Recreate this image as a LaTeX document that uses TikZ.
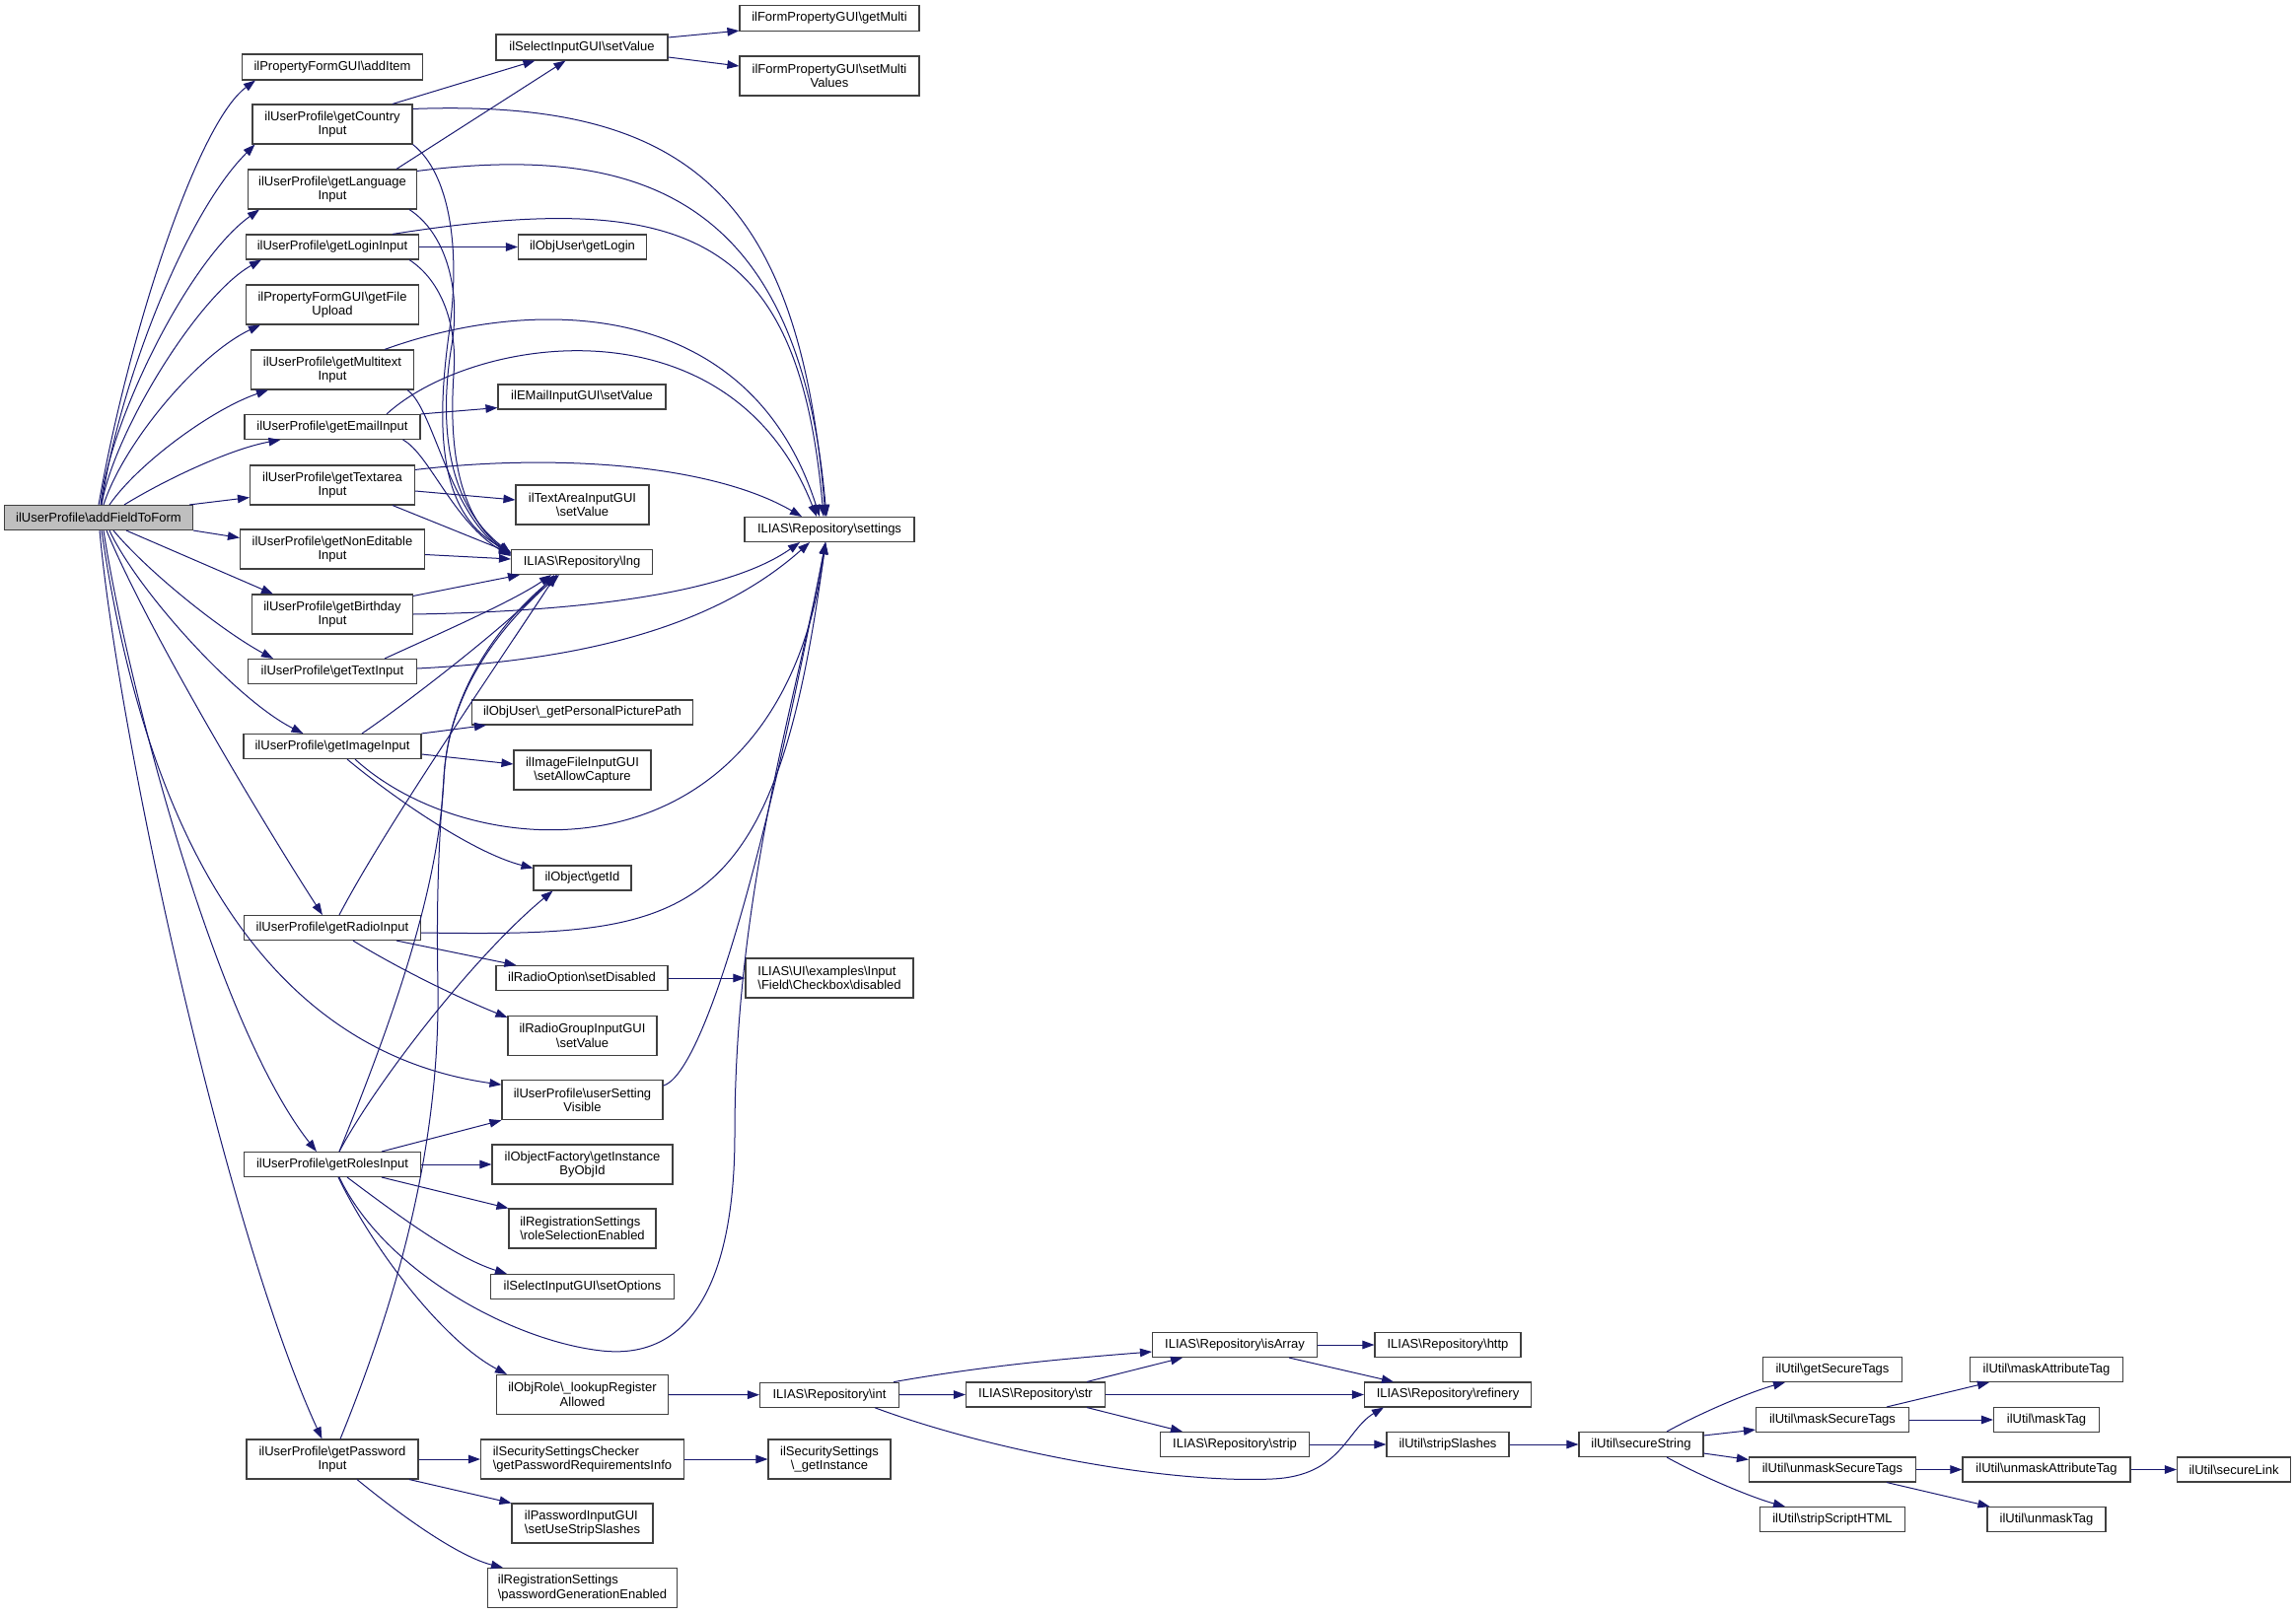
\documentclass[tikz,border=0pt]{standalone}
\usepackage{fontspec}
\setmainfont{Liberation Sans}
\usetikzlibrary{arrows.meta}
\definecolor{edgec}{HTML}{191970}
\definecolor{bordc}{HTML}{404040}
\definecolor{rootc}{HTML}{BFBFBF}
\newcommand{\BS}{\textbackslash}
\begin{document}
\begin{tikzpicture}[x=1pt,y=-1pt,
  box/.style={draw=bordc, line width=1.1pt, fill=white, inner sep=0pt, align=center, font=\fontsize{13}{14.5}\selectfont},
  sz/.style 2 args={minimum width=#1pt, minimum height=#2pt},
  lnk/.style={draw=edgec, line width=1pt, -{Triangle[length=12pt,width=8.5pt]}}]
\useasboundingbox[fill=white] (0,0) rectangle (2328,1637);
% column 1
\node[box,sz={191}{25},fill=rootc] (root) at (100,525) {ilUserProfile\BS addFieldToForm};
% column 2
\node[box,sz={183}{26}] (addItem) at (337,68) {ilPropertyFormGUI\BS addItem};
\node[box,sz={162}{40}] (country) at (337,126) {ilUserProfile\BS getCountry\\Input};
\node[box,sz={171}{40}] (language) at (337,192) {ilUserProfile\BS getLanguage\\Input};
\node[box,sz={175}{25}] (login) at (337,250.5) {ilUserProfile\BS getLoginInput};
\node[box,sz={175}{40}] (fileupload) at (337,309) {ilPropertyFormGUI\BS getFile\\Upload};
\node[box,sz={165}{40}] (multitext) at (337,375) {ilUserProfile\BS getMultitext\\Input};
\node[box,sz={178}{25}] (email) at (337,433) {ilUserProfile\BS getEmailInput};
\node[box,sz={167}{40}] (textarea) at (337,492) {ilUserProfile\BS getTextarea\\Input};
\node[box,sz={187}{40}] (noneditable) at (337,557) {ilUserProfile\BS getNonEditable\\Input};
\node[box,sz={163}{40}] (birthday) at (337,623) {ilUserProfile\BS getBirthday\\Input};
\node[box,sz={171}{25}] (textinput) at (337,681) {ilUserProfile\BS getTextInput};
\node[box,sz={180}{25}] (imageinput) at (337,757) {ilUserProfile\BS getImageInput};
\node[box,sz={179}{25}] (radioinput) at (337,941) {ilUserProfile\BS getRadioInput};
\node[box,sz={179}{25}] (rolesinput) at (337,1181) {ilUserProfile\BS getRolesInput};
\node[box,sz={174}{40}] (password) at (337,1480) {ilUserProfile\BS getPassword\\Input};
% column 3
\node[box,sz={174}{26}] (selSet) at (590,48) {ilSelectInputGUI\BS setValue};
\node[box,sz={130}{25}] (getLogin) at (590.5,250.5) {ilObjUser\BS getLogin};
\node[box,sz={170}{25}] (emailSet) at (590,402.5) {ilEMailInputGUI\BS setValue};
\node[box,sz={135}{40}] (taSet) at (590.5,512) {ilTextAreaInputGUI\\\BS setValue};
\node[box,sz={143}{25}] (lng) at (590,570) {ILIAS\BS Repository\BS lng};
\node[box,sz={224}{25}] (picPath) at (590.5,722.5) {ilObjUser\BS\_getPersonalPicturePath};
\node[box,sz={139}{40}] (allowCap) at (590.5,781) {ilImageFileInputGUI\\\BS setAllowCapture};
\node[box,sz={99}{25}] (getId) at (590.5,890.5) {ilObject\BS getId};
\node[box,sz={174}{25}] (setDis) at (590,992) {ilRadioOption\BS setDisabled};
\node[box,sz={151}{40}] (rgSet) at (590.5,1050.5) {ilRadioGroupInputGUI\\\BS setValue};
\node[box,sz={163}{40}] (usv) at (590.5,1115.7) {ilUserProfile\BS userSetting\\Visible};
\node[box,sz={183}{40}] (objFac) at (590.5,1181) {ilObjectFactory\BS getInstance\\ByObjId};
\node[box,sz={149}{40},align=left] (roleSel) at (590.5,1246) {ilRegistrationSettings\\\BS roleSelectionEnabled};
\node[box,sz={186}{25}] (setOpt) at (590.5,1305) {ilSelectInputGUI\BS setOptions};
\node[box,sz={174}{40}] (objRole) at (590.5,1414.5) {ilObjRole\BS\_lookupRegister\\Allowed};
\node[box,sz={206}{40},align=left] (secChk) at (590.5,1480) {ilSecuritySettingsChecker\\\BS getPasswordRequirementsInfo};
\node[box,sz={143}{40},align=left] (pwIn) at (590.5,1545) {ilPasswordInputGUI\\\BS setUseStripSlashes};
\node[box,sz={192}{40},align=left] (pwGen) at (590.5,1610.5) {ilRegistrationSettings\\\BS passwordGenerationEnabled};
% column 4
\node[box,sz={182}{26}] (getMulti) at (841,18.6) {ilFormPropertyGUI\BS getMulti};
\node[box,sz={182}{40}] (setMulti) at (841,77) {ilFormPropertyGUI\BS setMulti\\Values};
\node[box,sz={172}{25}] (settings) at (841,537) {ILIAS\BS Repository\BS settings};
\node[box,sz={170}{40},align=left] (cbDis) at (841,992) {ILIAS\BS UI\BS examples\BS Input\\\BS Field\BS Checkbox\BS disabled};
\node[box,sz={141}{25}] (repoInt) at (841,1414.7) {ILIAS\BS Repository\BS int};
\node[box,sz={124}{40}] (secInst) at (841,1480) {ilSecuritySettings\\\BS\_getInstance};
% further columns
\node[box,sz={141}{25}] (str) at (1050,1414.5) {ILIAS\BS Repository\BS str};
\node[box,sz={167}{25}] (isArray) at (1252,1364) {ILIAS\BS Repository\BS isArray};
\node[box,sz={151}{25}] (strip) at (1252,1465) {ILIAS\BS Repository\BS strip};
\node[box,sz={148}{25}] (http) at (1468,1364) {ILIAS\BS Repository\BS http};
\node[box,sz={169}{25}] (refinery) at (1468,1414.5) {ILIAS\BS Repository\BS refinery};
\node[box,sz={124}{25}] (stripSl) at (1468,1465) {ilUtil\BS stripSlashes};
\node[box,sz={126}{25}] (secStr) at (1664,1465) {ilUtil\BS secureString};
\node[box,sz={141}{25}] (getSec) at (1858,1389) {ilUtil\BS getSecureTags};
\node[box,sz={155}{25}] (maskSec) at (1858,1440) {ilUtil\BS maskSecureTags};
\node[box,sz={169}{25}] (unmaskSec) at (1858,1490.5) {ilUtil\BS unmaskSecureTags};
\node[box,sz={147}{25}] (stripScr) at (1858,1541) {ilUtil\BS stripScriptHTML};
\node[box,sz={155}{25}] (maskAttr) at (2075,1389) {ilUtil\BS maskAttributeTag};
\node[box,sz={107}{25}] (maskTag) at (2075,1440) {ilUtil\BS maskTag};
\node[box,sz={170}{25}] (unmaskAttr) at (2075,1490.5) {ilUtil\BS unmaskAttributeTag};
\node[box,sz={120}{25}] (unmaskTag) at (2075,1541) {ilUtil\BS unmaskTag};
\node[box,sz={115}{25}] (secLink) at (2265,1490.5) {ilUtil\BS secureLink};

% ---- edges from root
\draw[lnk] (root.north) .. controls (130,340) and (200,125) .. ([xshift=14pt]addItem.south west);
\draw[lnk] ([xshift=3pt]root.north) .. controls (118,400) and (185,220) .. ([xshift=3pt]country.south west);
\draw[lnk] ([xshift=2pt]root.north) .. controls (110,430) and (190,265) .. ([xshift=12pt]language.south west);
\draw[lnk] ([xshift=3pt]root.north) .. controls (115,440) and (200,300) .. ([xshift=16pt]login.south west);
\draw[lnk] ([xshift=5pt]root.north) .. controls (125,450) and (200,360) .. ([xshift=15pt]fileupload.south west);
\draw[lnk] ([xshift=11pt]root.north) .. controls (140,470) and (215,415) .. ([xshift=18pt]multitext.south west);
\draw[lnk] ([xshift=26pt]root.north) .. controls (170,485) and (235,455) .. ([xshift=37pt]email.south west);
\draw[lnk] ([xshift=-4pt]root.north east) -- ([yshift=8pt]textarea.south west);
\draw[lnk] (root.south east) -- ([yshift=-9pt]noneditable.north west);
\draw[lnk] ([xshift=28pt]root.south) -- ([xshift=22pt]birthday.north west);
\draw[lnk] ([xshift=15pt]root.south) .. controls (150,580) and (225,640) .. ([xshift=26pt]textinput.north west);
\draw[lnk] ([xshift=11pt]root.south) .. controls (140,600) and (240,710) .. ([xshift=61pt]imageinput.north west);
\draw[lnk] ([xshift=8pt]root.south) .. controls (150,640) and (270,840) .. ([xshift=80pt]radioinput.north west);
\draw[lnk] ([xshift=3pt]root.south) .. controls (135,760) and (225,1060) .. ([yshift=-5pt]usv.north west);
\draw[lnk] ([xshift=5pt]root.south) .. controls (130,700) and (220,1040) .. ([xshift=74pt]rolesinput.north west);
\draw[lnk] ([xshift=1pt]root.south) .. controls (120,750) and (230,1250) .. ([xshift=77pt]password.north west);

% ---- second column edges
\draw[lnk] ([xshift=61pt]country.north) -- ([xshift=40pt]selSet.south west);
\draw[lnk] ([xshift=65pt]language.north) -- ([xshift=71pt]selSet.south west);
\draw[lnk] ([yshift=-5pt]country.north east) .. controls (700,100) and (810,200) .. ([xshift=-4pt]settings.north);
\draw[lnk] ([yshift=-2pt]language.north east) .. controls (650,145) and (810,200) .. ([xshift=-3pt]settings.north);
\draw[lnk] ([xshift=61pt]login.north) .. controls (700,190) and (810,240) .. ([xshift=-6pt]settings.north);
\draw[lnk] ([xshift=53pt]multitext.north) .. controls (540,300) and (760,300) .. ([xshift=-10pt]settings.north);
\draw[lnk] ([xshift=55pt]email.north) .. controls (480,340) and (740,300) .. ([xshift=-13pt]settings.north);
\draw[lnk] ([yshift=-5pt]textarea.north east) .. controls (560,460) and (720,470) .. ([xshift=-28pt]settings.north);

\draw[lnk] (country.south east) .. controls (455,175) and (468,250) .. (455,340) .. controls (440,450) and (450,525) .. ([yshift=10pt]lng.west);
\draw[lnk] ([xshift=-8pt]language.south east) .. controls (450,235) and (468,290) .. (458,350) .. controls (448,410) and (445,505) .. ([yshift=9pt]lng.west);
\draw[lnk] ([xshift=-10pt]login.south east) .. controls (448,285) and (464,330) .. (460,380) .. controls (456,440) and (460,520) .. ([yshift=8pt]lng.west);
\draw[lnk] ([xshift=-7pt]multitext.south east) .. controls (440,415) and (455,520) .. ([yshift=7pt]lng.west);
\draw[lnk] ([xshift=-18pt]email.south east) .. controls (435,460) and (460,530) .. ([yshift=6pt]lng.west);
\draw[lnk] ([xshift=61pt]textarea.south) -- ([yshift=9pt]lng.west);
\draw[lnk] ([yshift=-5.5pt]noneditable.east) -- ([yshift=3pt]lng.west);

\draw[lnk] (login.east) -- (getLogin.west);
\draw[lnk] (email.north east) -- ([yshift=2pt]emailSet.south west);
\draw[lnk] ([yshift=-6pt]textarea.east) -- ([yshift=5pt]taSet.west);

\draw[lnk] ([yshift=-2pt]birthday.north east) -- ([xshift=9pt]lng.south west);
\draw[lnk] (birthday.east) .. controls (600,620) and (740,600) .. ([xshift=-30pt]settings.south);
\draw[lnk] ([xshift=53pt]textinput.north) .. controls (440,645) and (520,610) .. ([xshift=-31pt]lng.south);
\draw[lnk] ([yshift=3pt]textinput.east) .. controls (580,670) and (720,640) .. ([xshift=-20pt]settings.south);

\draw[lnk] ([xshift=30pt]imageinput.north) .. controls (410,715) and (520,630) .. ([xshift=-28pt]lng.south);
\draw[lnk] (imageinput.north east) -- ([xshift=15pt]picPath.south west);
\draw[lnk] ([yshift=-8pt]imageinput.east) -- ([yshift=6pt]allowCap.west);
\draw[lnk] ([xshift=15pt]imageinput.south) .. controls (400,810) and (480,865) .. ([yshift=10pt]getId.west);
\draw[lnk] ([xshift=23pt]imageinput.south) .. controls (480,880) and (790,900) .. ([xshift=-4pt]settings.south);

\draw[lnk] ([xshift=7pt]radioinput.north) .. controls (390,840) and (500,680) .. ([xshift=-26pt]lng.south);
\draw[lnk] ([yshift=-5pt]radioinput.east) .. controls (700,950) and (785,940) .. ([xshift=-4pt]settings.south);
\draw[lnk] ([xshift=65pt]radioinput.south) -- ([xshift=21pt]setDis.north west);
\draw[lnk] ([xshift=21pt]radioinput.south) .. controls (400,980) and (460,1010) .. ([yshift=-2pt]rgSet.north west);
\draw[lnk] (setDis.east) -- (cbDis.west);

\draw[lnk] ([yshift=-6pt]usv.north east) .. controls (710,1090) and (770,900) .. ([xshift=-4pt]settings.south);

\draw[lnk] ([xshift=7pt]rolesinput.north) .. controls (400,1030) and (445,900) .. (450,790) .. controls (455,690) and (520,620) .. ([xshift=-25pt]lng.south);
\draw[lnk] ([xshift=7pt]rolesinput.north) .. controls (380,1100) and (480,970) .. ([xshift=-30pt]getId.south);
\draw[lnk] ([xshift=50pt]rolesinput.north) -- (usv.south west);
\draw[lnk] (rolesinput.east) -- (objFac.west);
\draw[lnk] ([xshift=50pt]rolesinput.south) -- (roleSel.north west);
\draw[lnk] ([xshift=15pt]rolesinput.south) .. controls (400,1230) and (460,1275) .. ([xshift=17pt]setOpt.north west);
\draw[lnk] ([xshift=6pt]rolesinput.south) .. controls (380,1270) and (450,1360) .. ([xshift=11pt]objRole.north west);
\draw[lnk] ([xshift=7pt]rolesinput.south) .. controls (390,1290) and (520,1360) .. (610,1370) .. controls (700,1380) and (745,1300) .. (745,1150) .. controls (745,900) and (810,700) .. ([xshift=-4pt]settings.south);

\draw[lnk] ([xshift=8pt]password.north) .. controls (410,1300) and (446,1150) .. (444,1000) .. controls (442,900) and (446,840) .. (450,790) .. controls (455,690) and (522,622) .. ([xshift=-23pt]lng.south);
\draw[lnk] (password.east) -- (secChk.west);
\draw[lnk] ([xshift=78pt]password.south) -- (pwIn.north west);
\draw[lnk] ([xshift=25pt]password.south) .. controls (420,1548) and (470,1580) .. ([xshift=16pt]pwGen.north west);

% ---- right part
\draw[lnk] ([yshift=10pt]selSet.east) -- ([yshift=1pt]getMulti.south west);
\draw[lnk] ([yshift=-10pt]selSet.east) -- ([yshift=10pt]setMulti.west);
\draw[lnk] (objRole.east) -- (repoInt.west);
\draw[lnk] (secChk.east) -- (secInst.west);

\draw[lnk] ([xshift=-6pt]repoInt.north east) .. controls (1000,1385) and (1080,1378) .. ([yshift=-7pt]isArray.west);
\draw[lnk] (repoInt.east) -- (str.west);
\draw[lnk] ([xshift=-25pt]repoInt.south east) .. controls (1000,1470) and (1180,1505) .. (1290,1500) .. controls (1360,1497) and (1365,1450) .. ([xshift=20pt]refinery.south west);
\draw[lnk] ([xshift=-19pt]str.north east) -- ([xshift=31pt]isArray.south west);
\draw[lnk] (str.east) -- (refinery.west);
\draw[lnk] ([xshift=-19pt]str.south east) -- ([xshift=23pt]strip.north west);
\draw[lnk] (isArray.east) -- (http.west);
\draw[lnk] ([xshift=-29pt]isArray.south east) -- ([xshift=30pt]refinery.north west);
\draw[lnk] (strip.east) -- (stripSl.west);
\draw[lnk] (stripSl.east) -- (secStr.west);

\draw[lnk] ([xshift=26pt]secStr.north) .. controls (1730,1430) and (1780,1410) .. ([xshift=23pt]getSec.south west);
\draw[lnk] ([yshift=-4pt]secStr.north east) -- ([yshift=3pt]maskSec.south west);
\draw[lnk] ([yshift=4pt]secStr.south east) -- ([yshift=-3pt]unmaskSec.north west);
\draw[lnk] ([xshift=26pt]secStr.south) .. controls (1730,1500) and (1780,1520) .. ([xshift=26pt]stripScr.north west);
\draw[lnk] ([xshift=55pt]maskSec.north) -- ([xshift=20pt]maskAttr.south west);
\draw[lnk] (maskSec.east) -- (maskTag.west);
\draw[lnk] (unmaskSec.east) -- (unmaskAttr.west);
\draw[lnk] ([xshift=55pt]unmaskSec.south) -- ([xshift=3pt]unmaskTag.north west);
\draw[lnk] (unmaskAttr.east) -- (secLink.west);
\end{tikzpicture}
\end{document}
